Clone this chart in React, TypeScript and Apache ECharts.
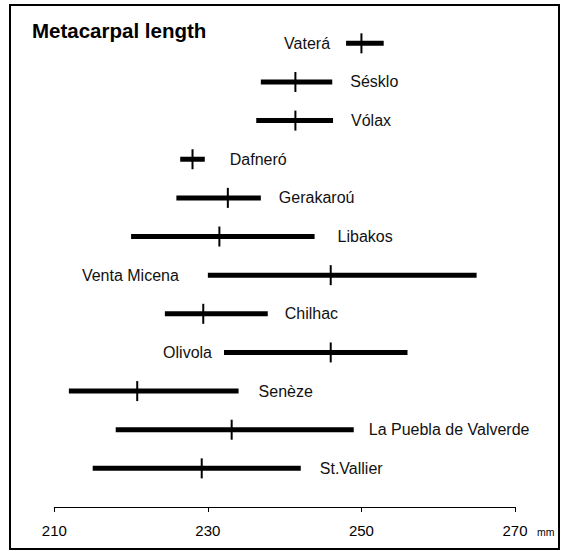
import React, { useEffect, useRef } from "react";
import * as echarts from "echarts";

// ---- data (top to bottom) ----
const sites = [
  "Vaterá",
  "Sésklo",
  "Vólax",
  "Dafneró",
  "Gerakaroú",
  "Libakos",
  "Venta Micena",
  "Chilhac",
  "Olivola",
  "Senèze",
  "La Puebla de Valverde",
  "St.Vallier",
];
const minValues = [248, 236.9, 236.3, 226.4, 225.9, 220, 230, 224.4, 232.1, 211.9, 218, 215];
const meanValues = [250, 241.4, 241.4, 228, 232.6, 231.5, 246, 229.4, 246, 220.8, 233.1, 229.2];
const maxValues = [252.9, 246.2, 246.3, 229.6, 236.9, 243.9, 265, 237.8, 256, 234, 249, 242.1];
const tickValues = [210, 230, 250, 270];
const unitLabel = "mm";
const titleText = "Metacarpal length";

// label placement (layout only)
const labelSide = ["left", "right", "right", "right", "right", "right", "left", "right", "left", "right", "right", "right"];
const labelGap = [16, 18, 18, 25, 18, 23, 29, 17, 12, 20, 15, 19];

const FONT = "'Liberation Sans', Arial, Helvetica, sans-serif";

export default function App() {
  const ref = useRef<HTMLDivElement>(null);

  useEffect(() => {
    if (!ref.current) return;
    const chart = echarts.init(ref.current, undefined, { renderer: "svg" });
    const n = sites.length;
    const data = sites.map((s, i) => [n - 1 - i, minValues[i], meanValues[i], maxValues[i], i]);
    const yMin = -1;

    chart.setOption({
      animation: false,
      backgroundColor: "#fff",
      title: {
        text: titleText,
        left: 32,
        top: 20,
        padding: 0,
        textStyle: { fontSize: 20.5, fontWeight: "bold", fontFamily: FONT, color: "#000" },
      },
      grid: { left: 54.3, right: 47, top: 24, bottom: 44 },
      xAxis: {
        type: "value",
        min: tickValues[0],
        max: tickValues[tickValues.length - 1],
        interval: 20,
        splitLine: { show: false },
        axisLine: { show: true, onZero: false, lineStyle: { color: "#000", width: 1 } },
        axisTick: { show: true, length: 5, lineStyle: { color: "#000", width: 1 } },
        axisLabel: { fontSize: 15, fontFamily: FONT, color: "#000", margin: 16 },
      },
      yAxis: { type: "value", min: yMin, max: 11.5, show: false },
      graphic: [
        {
          type: "rect",
          shape: { x: 10, y: 5, width: 549, height: 544 },
          style: { fill: "none", stroke: "#000", lineWidth: 2 },
          silent: true,
        },
      ],
      series: [
        {
          type: "custom",
          data,
          encode: { x: [1, 2, 3], y: 0 },
          renderItem: (params: any, api: any) => {
            const y = api.value(0);
            const lo = api.value(1);
            const mean = api.value(2);
            const hi = api.value(3);
            const idx = api.value(4);
            const p0 = api.coord([lo, y]);
            const p1 = api.coord([hi, y]);
            const pm = api.coord([mean, y]);
            const left = labelSide[idx] === "left";
            const gap = labelGap[idx];
            return {
              type: "group",
              children: [
                {
                  type: "line",
                  shape: { x1: p0[0], y1: p0[1], x2: p1[0], y2: p1[1] },
                  style: { stroke: "#000", lineWidth: 5 },
                },
                {
                  type: "line",
                  shape: { x1: pm[0], y1: pm[1] - 10, x2: pm[0], y2: pm[1] + 10 },
                  style: { stroke: "#000", lineWidth: 2 },
                },
                {
                  type: "text",
                  x: left ? p0[0] - gap : p1[0] + gap,
                  y: p0[1],
                  style: {
                    text: sites[idx],
                    textAlign: left ? "right" : "left",
                    textVerticalAlign: "middle",
                    fontSize: 16,
                    fontFamily: FONT,
                    fill: "#111",
                  },
                },
              ],
            };
          },
        },
      ],
    });

    const end = chart.convertToPixel({ xAxisIndex: 0, yAxisIndex: 0 } as any, [
      tickValues[tickValues.length - 1],
      yMin,
    ]) as number[];
    chart.setOption({
      graphic: [
        {
          type: "rect",
          shape: { x: 10, y: 5, width: 549, height: 544 },
          style: { fill: "none", stroke: "#000", lineWidth: 2 },
          silent: true,
        },
        {
          type: "text",
          x: end[0] + 22,
          y: end[1] + 25,
          style: {
            text: unitLabel,
            fontSize: 10.5,
            fontFamily: FONT,
            fill: "#000",
            textAlign: "left",
            textVerticalAlign: "middle",
          },
          silent: true,
        },
      ],
    });

    return () => chart.dispose();
  }, []);

  return (
    <div
      ref={ref}
      style={{ position: "absolute", left: 0, top: 0, width: 562, height: 551 }}
    />
  );
}
